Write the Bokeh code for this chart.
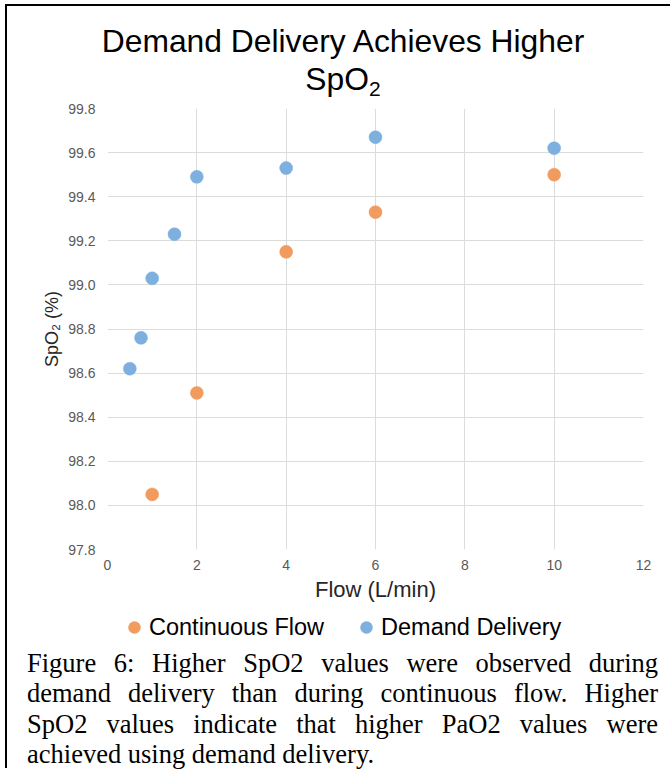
from bokeh.plotting import figure
from bokeh.models import (Range1d, FixedTicker, NumeralTickFormatter,
                          Legend, LegendItem, Div, ColumnDataSource)
from bokeh.layouts import column
from bokeh.embed import file_html
from bokeh.resources import INLINE

# ---- data ----
continuous_flow = [1, 2, 4, 6, 10]
continuous_spo2 = [98.05, 98.51, 99.15, 99.33, 99.50]
demand_flow = [0.5, 0.75, 1, 1.5, 2, 4, 6, 10]
demand_spo2 = [98.62, 98.76, 99.03, 99.23, 99.49, 99.53, 99.67, 99.62]
x_ticks = [0, 2, 4, 6, 8, 10, 12]
y_ticks = [97.8, 98.0, 98.2, 98.4, 98.6, 98.8, 99.0, 99.2, 99.4, 99.6, 99.8]
series_names = ["Continuous Flow", "Demand Delivery"]
title_line1 = "Demand Delivery Achieves Higher"
title_line2 = "SpO"
title_sub = "2"
x_title = "Flow (L/min)"
y_title = "SpO\u2082 (%)"
caption = ("Figure 6: Higher SpO2 values were observed during demand delivery "
           "than during continuous flow. Higher SpO2 values indicate that higher "
           "PaO2 values were achieved using demand delivery.")

ORANGE = "#F19B5F"
BLUE = "#7DB0DF"
GRID = "#DCDCDC"
SANS = "Liberation Sans"

# ---- title (HTML, for the subscript) ----
title_div = Div(
    text=('<div style="box-sizing:border-box;font-family:\'Liberation Sans\',Arial,sans-serif;'
          'font-size:31.8px;line-height:38px;color:#000;text-align:center;width:670px;'
          'padding:21.6px 0 0 16px;margin:0;white-space:nowrap;">'
          + title_line1 + '<br>' + title_line2
          + '<span style="font-size:21px;position:relative;top:6px;line-height:0;">'
          + title_sub + '</span></div>'),
    width=670, height=100, margin=0)

# ---- scatter chart ----
p = figure(frame_width=536, frame_height=441,
           x_range=Range1d(0, 12), y_range=Range1d(97.8, 99.8),
           output_backend="svg", toolbar_location=None,
           min_border_left=107, min_border_right=27,
           min_border_top=8, min_border_bottom=62,
           background_fill_color="white", border_fill_color=None,
           outline_line_color=None)

src_c = ColumnDataSource(dict(x=continuous_flow, y=continuous_spo2))
src_d = ColumnDataSource(dict(x=demand_flow, y=demand_spo2))
r1 = p.scatter("x", "y", source=src_c, size=13, fill_color=ORANGE, line_color=ORANGE, line_width=0.5)
r2 = p.scatter("x", "y", source=src_d, size=13, fill_color=BLUE, line_color=BLUE, line_width=0.5)

for ax in (p.xaxis[0], p.yaxis[0]):
    ax.axis_line_color = None
    ax.major_tick_line_color = None
    ax.minor_tick_line_color = None
    ax.major_tick_out = 0
    ax.major_tick_in = 0
    ax.major_label_text_font = SANS
    ax.major_label_text_font_size = "14px"
    ax.major_label_text_color = "#595959"
    ax.axis_label_text_font = SANS
    ax.axis_label_text_font_style = "normal"
    ax.axis_label_text_color = "#262626"

p.xaxis.ticker = FixedTicker(ticks=x_ticks)
p.yaxis.ticker = FixedTicker(ticks=y_ticks)
p.xaxis.formatter = NumeralTickFormatter(format="0")
p.yaxis.formatter = NumeralTickFormatter(format="0.0")
p.xaxis.major_label_standoff = 10
p.yaxis.major_label_standoff = 12
p.xaxis.axis_label = x_title
p.xaxis.axis_label_text_font_size = "22px"
p.xaxis.axis_label_standoff = 4
p.yaxis.axis_label = y_title
p.yaxis.axis_label_text_font_size = "18px"
p.yaxis.axis_label_standoff = 3

p.xgrid.grid_line_color = GRID
p.ygrid.grid_line_color = GRID
p.xgrid.grid_line_width = 1
p.ygrid.grid_line_width = 1

# ---- legend strip (own canvas; the column aligns its frame with the chart's) ----
lf = figure(width=670, height=37, x_range=Range1d(0, 12), y_range=Range1d(0, 1),
            output_backend="svg", toolbar_location=None,
            x_axis_location=None, y_axis_location=None,
            min_border=0, outline_line_color=None,
            border_fill_color=None, background_fill_color=None)
lf.xgrid.visible = False
lf.ygrid.visible = False
# same series sources; their SpO2 values lie outside this strip's y range,
# so only the legend swatches show here
lr1 = lf.scatter("x", "y", source=src_c, size=13, fill_color=ORANGE, line_color=ORANGE, line_width=0.5)
lr2 = lf.scatter("x", "y", source=src_d, size=13, fill_color=BLUE, line_color=BLUE, line_width=0.5)
legend = Legend(items=[LegendItem(label=series_names[0], renderers=[lr1]),
                       LegendItem(label=series_names[1], renderers=[lr2])],
                orientation="horizontal", location=(12, 6),
                glyph_width=30, glyph_height=30, label_standoff=0, spacing=27,
                padding=0, margin=0, border_line_color=None,
                background_fill_alpha=0,
                label_text_font=SANS, label_text_font_size="23.5px",
                label_text_color="black")
lf.add_layout(legend)

# ---- caption ----
cap = Div(text=('<div style="font-family:\'Liberation Serif\',serif;font-size:26.5px;'
                'line-height:30.3px;text-align:justify;color:#000;margin:0;padding:0;">'
                + caption + '</div>'),
          width=631, height=120, margin=(0, 0, 0, 27))

frame_lines = ("linear-gradient(#000,#000) 5px 4px / 2px 100% no-repeat, "
               "linear-gradient(#000,#000) 5px 4px / 100% 2px no-repeat")
layout = column(title_div, p, lf, cap, styles={"background": frame_lines})

open("out.html", "w").write(file_html(layout, INLINE))
